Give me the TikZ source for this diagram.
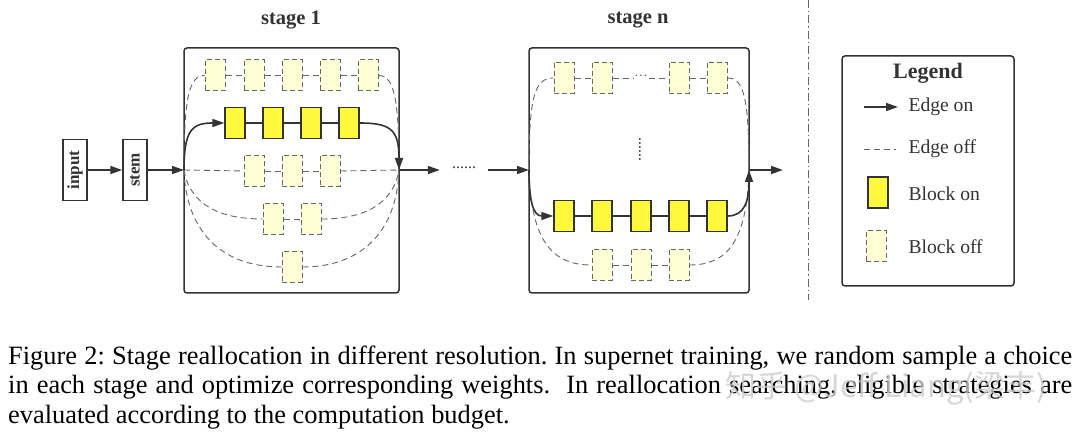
\documentclass[tikz,border=0pt]{standalone}
\usepackage{fontspec}
\setmainfont{Liberation Serif}
\newfontfamily\cjk{Noto Sans CJK SC}
\usetikzlibrary{arrows.meta}
\definecolor{lineC}{HTML}{333333}
\definecolor{onC}{HTML}{FFF93E}
\definecolor{offC}{HTML}{FFFFD6}
\definecolor{offB}{HTML}{666666}
\tikzset{
 onblk/.style={draw=lineC, line width=1.4pt, fill=onC, minimum width=20pt, minimum height=31pt, inner sep=0pt},
 offblk/.style={draw=offB, line width=1pt, dash pattern=on 5pt off 3pt, fill=offC, minimum width=20pt, minimum height=31pt, inner sep=0pt},
 onedge/.style={draw=lineC, line width=1.6pt},
 offedge/.style={draw=offB, line width=0.9pt, dash pattern=on 6pt off 4pt},
 arr/.style={-{Triangle[length=12pt,width=8pt]}},
 stagebox/.style={draw=lineC, line width=1.5pt, rounded corners=3pt, inner sep=0pt},
 smallbox/.style={draw=lineC, line width=1.5pt, rotate=90, minimum width=61pt, minimum height=24pt, inner sep=0pt, font=\fontsize{17}{20}\selectfont\bfseries, text=lineC},
 titletext/.style={font=\fontsize{20.5}{24}\selectfont\bfseries, text=lineC},
 lgtext/.style={font=\fontsize{19.6}{23}\selectfont, anchor=west, text=lineC},
 captext/.style={font=\fontsize{26.4}{31}\selectfont\frenchspacing, anchor=base west, inner sep=0pt},
}
\begin{document}
\begin{tikzpicture}[x=1pt,y=-1pt]
\useasboundingbox[fill=white] (0,0) rectangle (1080,443);

% stage boxes
\node[stagebox, minimum width=215pt, minimum height=245pt] (s1) at (291.5,170.5) {};
\node[stagebox, minimum width=220pt, minimum height=245pt] (sn) at (639,170.5) {};
\node[titletext] (t1) at (291,20) {stage 1};
\node[titletext] (tn) at (638,20) {stage n};

% input / stem
\node[smallbox] (in) at (75,170) {input};
\node[smallbox] (stem) at (135,170) {stem};

\coordinate (j1L) at (184,170);
\coordinate (j1R) at (399,170);
\coordinate (jnL) at (529,170);
\coordinate (jnR) at (749,170);
\coordinate (outE) at (783,170);

% stage 1 blocks
\foreach \x [count=\i] in {215,254,292,330,368} \node[offblk] (a\i) at (\x,75.5) {};
\foreach \x [count=\i] in {235,273,311,349} \node[onblk] (o\i) at (\x,123) {};
\foreach \x [count=\i] in {254,292,330} \node[offblk] (c\i) at (\x,171) {};
\foreach \x [count=\i] in {273,311} \node[offblk] (d\i) at (\x,219) {};
\node[offblk] (e1) at (292,267) {};

% stage n blocks
\foreach \x [count=\i] in {564,602,679,717} \node[offblk] (p\i) at (\x,78) {};
\foreach \x [count=\i] in {564,602,641,679,717} \node[onblk] (q\i) at (\x,216) {};
\foreach \x [count=\i] in {602,641,679} \node[offblk] (r\i) at (\x,265) {};
\node[inner sep=1pt, font=\fontsize{14}{16}\selectfont, text=offB] (tdots) at (641,78) {···};
\node[rotate=90, inner sep=0pt, font=\fontsize{16}{18}\selectfont, text=lineC] (vdots) at (640,150) {......};

% stage 1 off edges
\draw[offedge] (j1L) .. controls (184,98) and (189,75.5) .. (a1.west);
\draw[offedge] (a1) -- (a2); \draw[offedge] (a2) -- (a3); \draw[offedge] (a3) -- (a4); \draw[offedge] (a4) -- (a5);
\draw[offedge] (a5.east) .. controls (394,75.5) and (399,98) .. (j1R);
\draw[offedge] (j1L) -- (c1.west);
\draw[offedge] (c1) -- (c2); \draw[offedge] (c2) -- (c3);
\draw[offedge] (c3.east) -- (j1R);
\draw[offedge] (j1L) .. controls (190,205) and (220,219) .. (d1.west);
\draw[offedge] (d1) -- (d2);
\draw[offedge] (d2.east) .. controls (363,219) and (393,205) .. (j1R);
\draw[offedge] (j1L) .. controls (186,230) and (220,267) .. (e1.west);
\draw[offedge] (e1.east) .. controls (363,267) and (397,230) .. (j1R);

% stage 1 on edges
\draw[onedge, arr] (j1L) .. controls (184,130) and (192,123) .. (o1.west);
\draw[onedge] (o1) -- (o2); \draw[onedge] (o2) -- (o3); \draw[onedge] (o3) -- (o4);
\draw[onedge, arr] (o4.east) .. controls (391,123) and (399,130) .. (j1R);

% stage n off edges
\draw[offedge] (jnL) .. controls (529,95) and (535,78) .. (p1.west);
\draw[offedge] (p1) -- (p2);
\draw[offedge] (p2) -- (tdots); \draw[offedge] (tdots) -- (p3);
\draw[offedge] (p3) -- (p4);
\draw[offedge] (p4.east) .. controls (743,78) and (749,95) .. (jnR);
\draw[offedge] (jnL) .. controls (531,245) and (555,265) .. (r1.west);
\draw[offedge] (r1) -- (r2); \draw[offedge] (r2) -- (r3);
\draw[offedge] (r3.east) .. controls (725,265) and (747,245) .. (jnR);

% stage n on edges
\draw[onedge, arr] (jnL) .. controls (529,200) and (533,216) .. (q1.west);
\draw[onedge] (q1) -- (q2); \draw[onedge] (q2) -- (q3); \draw[onedge] (q3) -- (q4); \draw[onedge] (q4) -- (q5);
\draw[onedge, arr] (q5.east) .. controls (745,216) and (749,200) .. (jnR);

% main flow
\draw[onedge, arr] (in) -- (stem);
\draw[onedge, arr] (stem) -- (j1L);
\node[inner xsep=12pt, inner ysep=0pt, font=\fontsize{16}{18}\selectfont, text=lineC] (dots) at (464,168) {......};
\draw[onedge, arr] (j1R) -- (dots.west |- j1R);
\draw[onedge, arr] (dots.east |- jnL) -- (jnL);
\draw[onedge, arr] (jnR) -- (outE);

% separator
\coordinate (vt) at (808,0);
\coordinate (vb) at (808,300);
\draw[draw=offB, line width=0.9pt, dash pattern=on 8pt off 3pt on 1.5pt off 3pt] (vt) -- (vb);

% legend
\node[stagebox, minimum width=172pt, minimum height=230pt] (lg) at (928,171) {};
\node[font=\fontsize{22}{26}\selectfont\bfseries, text=lineC] (lgt) at (928,73) {Legend};
\coordinate (lea) at (864,107);
\coordinate (leb) at (898,107);
\draw[onedge, arr] (lea) -- (leb);
\node[lgtext] (l1) at (905,107) {Edge on};
\coordinate (lfa) at (864,149);
\coordinate (lfb) at (896,149);
\draw[offedge] (lfa) -- (lfb);
\node[lgtext] (l2) at (905,149) {Edge off};
\node[onblk] (lbon) at (878,192.5) {};
\node[lgtext] (l3) at (905,194) {Block on};
\node[offblk] (lboff) at (876,246.5) {};
\node[lgtext] (l4) at (905,247) {Block off};

% caption
\node[captext] (cap1) at (8,365) {\makebox[1064pt][s]{Figure 2: Stage reallocation in different resolution. In supernet training, we random sample a choice}};
\node[captext] (cap2) at (8,394) {\makebox[1064pt][s]{in each stage and optimize corresponding weights.\ \ In reallocation searching, eligible strategies are}};
\node[captext] (cap3) at (8,424) {evaluated according to the computation budget.};

% watermark
\node[text=gray!40, opacity=0.8, font=\cjk\fontsize{31}{36}\selectfont] (wm) at (886,388) {知乎 @Jeff Liang(梁丰)};
\end{tikzpicture}
\end{document}
